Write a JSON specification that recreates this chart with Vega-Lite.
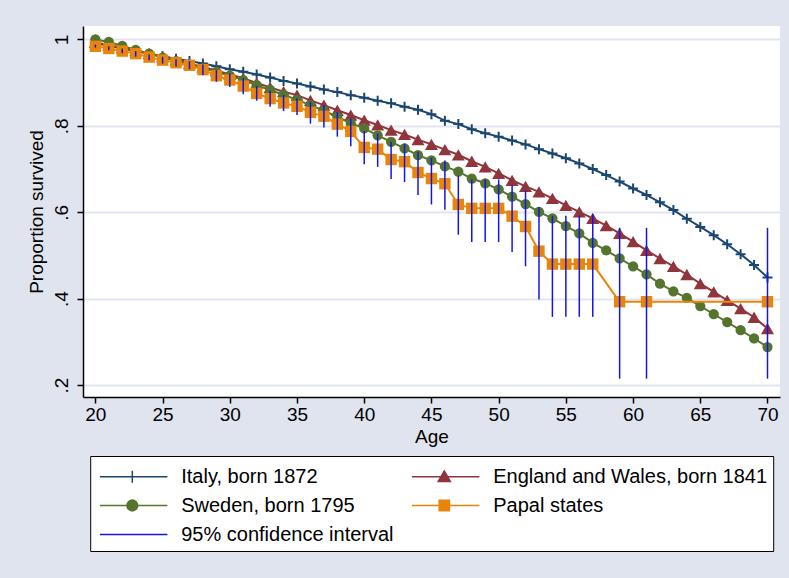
{
  "$schema": "https://vega.github.io/schema/vega-lite/v6.json",
  "width": 697,
  "height": 371,
  "autosize": {"type": "none"},
  "padding": {"left": 83, "top": 26, "right": 9, "bottom": 181},
  "background": "#E0E4EF",
  "config": {
    "font": "Liberation Sans",
    "view": {"fill": "white", "stroke": null},
    "axis": {
      "labelFont": "Liberation Sans",
      "titleFont": "Liberation Sans",
      "labelColor": "black",
      "titleColor": "black",
      "labelFontSize": 19,
      "titleFontSize": 19,
      "titleFontWeight": "normal",
      "domainColor": "black",
      "domainWidth": 1.5,
      "tickColor": "black",
      "tickWidth": 1.5,
      "tickSize": 6
    }
  },
  "data": {
    "values": [
      {"s": "Italy, born 1872", "age": 20, "p": 0.991}, {"s": "Italy, born 1872", "age": 21, "p": 0.985},
      {"s": "Italy, born 1872", "age": 22, "p": 0.979}, {"s": "Italy, born 1872", "age": 23, "p": 0.973},
      {"s": "Italy, born 1872", "age": 24, "p": 0.967}, {"s": "Italy, born 1872", "age": 25, "p": 0.961},
      {"s": "Italy, born 1872", "age": 26, "p": 0.955}, {"s": "Italy, born 1872", "age": 27, "p": 0.950},
      {"s": "Italy, born 1872", "age": 28, "p": 0.944}, {"s": "Italy, born 1872", "age": 29, "p": 0.938},
      {"s": "Italy, born 1872", "age": 30, "p": 0.931}, {"s": "Italy, born 1872", "age": 31, "p": 0.925},
      {"s": "Italy, born 1872", "age": 32, "p": 0.919}, {"s": "Italy, born 1872", "age": 33, "p": 0.912},
      {"s": "Italy, born 1872", "age": 34, "p": 0.904}, {"s": "Italy, born 1872", "age": 35, "p": 0.898},
      {"s": "Italy, born 1872", "age": 36, "p": 0.891}, {"s": "Italy, born 1872", "age": 37, "p": 0.884},
      {"s": "Italy, born 1872", "age": 38, "p": 0.878}, {"s": "Italy, born 1872", "age": 39, "p": 0.871},
      {"s": "Italy, born 1872", "age": 40, "p": 0.865}, {"s": "Italy, born 1872", "age": 41, "p": 0.858},
      {"s": "Italy, born 1872", "age": 42, "p": 0.852}, {"s": "Italy, born 1872", "age": 43, "p": 0.844},
      {"s": "Italy, born 1872", "age": 44, "p": 0.837}, {"s": "Italy, born 1872", "age": 45, "p": 0.827},
      {"s": "Italy, born 1872", "age": 46, "p": 0.812}, {"s": "Italy, born 1872", "age": 47, "p": 0.804},
      {"s": "Italy, born 1872", "age": 48, "p": 0.792}, {"s": "Italy, born 1872", "age": 49, "p": 0.783},
      {"s": "Italy, born 1872", "age": 50, "p": 0.775}, {"s": "Italy, born 1872", "age": 51, "p": 0.766},
      {"s": "Italy, born 1872", "age": 52, "p": 0.757}, {"s": "Italy, born 1872", "age": 53, "p": 0.746},
      {"s": "Italy, born 1872", "age": 54, "p": 0.736}, {"s": "Italy, born 1872", "age": 55, "p": 0.725},
      {"s": "Italy, born 1872", "age": 56, "p": 0.713}, {"s": "Italy, born 1872", "age": 57, "p": 0.700},
      {"s": "Italy, born 1872", "age": 58, "p": 0.686}, {"s": "Italy, born 1872", "age": 59, "p": 0.671},
      {"s": "Italy, born 1872", "age": 60, "p": 0.655}, {"s": "Italy, born 1872", "age": 61, "p": 0.640},
      {"s": "Italy, born 1872", "age": 62, "p": 0.623}, {"s": "Italy, born 1872", "age": 63, "p": 0.605},
      {"s": "Italy, born 1872", "age": 64, "p": 0.585}, {"s": "Italy, born 1872", "age": 65, "p": 0.566},
      {"s": "Italy, born 1872", "age": 66, "p": 0.547}, {"s": "Italy, born 1872", "age": 67, "p": 0.526},
      {"s": "Italy, born 1872", "age": 68, "p": 0.503}, {"s": "Italy, born 1872", "age": 69, "p": 0.478},
      {"s": "Italy, born 1872", "age": 70, "p": 0.449},

      {"s": "England and Wales, born 1841", "age": 20, "p": 0.993}, {"s": "England and Wales, born 1841", "age": 21, "p": 0.987},
      {"s": "England and Wales, born 1841", "age": 22, "p": 0.981}, {"s": "England and Wales, born 1841", "age": 23, "p": 0.974},
      {"s": "England and Wales, born 1841", "age": 24, "p": 0.967}, {"s": "England and Wales, born 1841", "age": 25, "p": 0.960},
      {"s": "England and Wales, born 1841", "age": 26, "p": 0.952}, {"s": "England and Wales, born 1841", "age": 27, "p": 0.944},
      {"s": "England and Wales, born 1841", "age": 28, "p": 0.936}, {"s": "England and Wales, born 1841", "age": 29, "p": 0.928},
      {"s": "England and Wales, born 1841", "age": 30, "p": 0.919}, {"s": "England and Wales, born 1841", "age": 31, "p": 0.910},
      {"s": "England and Wales, born 1841", "age": 32, "p": 0.899}, {"s": "England and Wales, born 1841", "age": 33, "p": 0.889},
      {"s": "England and Wales, born 1841", "age": 34, "p": 0.879}, {"s": "England and Wales, born 1841", "age": 35, "p": 0.871},
      {"s": "England and Wales, born 1841", "age": 36, "p": 0.859}, {"s": "England and Wales, born 1841", "age": 37, "p": 0.848},
      {"s": "England and Wales, born 1841", "age": 38, "p": 0.836}, {"s": "England and Wales, born 1841", "age": 39, "p": 0.825},
      {"s": "England and Wales, born 1841", "age": 40, "p": 0.813}, {"s": "England and Wales, born 1841", "age": 41, "p": 0.802},
      {"s": "England and Wales, born 1841", "age": 42, "p": 0.790}, {"s": "England and Wales, born 1841", "age": 43, "p": 0.780},
      {"s": "England and Wales, born 1841", "age": 44, "p": 0.768}, {"s": "England and Wales, born 1841", "age": 45, "p": 0.757},
      {"s": "England and Wales, born 1841", "age": 46, "p": 0.745}, {"s": "England and Wales, born 1841", "age": 47, "p": 0.733},
      {"s": "England and Wales, born 1841", "age": 48, "p": 0.718}, {"s": "England and Wales, born 1841", "age": 49, "p": 0.705},
      {"s": "England and Wales, born 1841", "age": 50, "p": 0.690}, {"s": "England and Wales, born 1841", "age": 51, "p": 0.674},
      {"s": "England and Wales, born 1841", "age": 52, "p": 0.660}, {"s": "England and Wales, born 1841", "age": 53, "p": 0.647},
      {"s": "England and Wales, born 1841", "age": 54, "p": 0.632}, {"s": "England and Wales, born 1841", "age": 55, "p": 0.616},
      {"s": "England and Wales, born 1841", "age": 56, "p": 0.601}, {"s": "England and Wales, born 1841", "age": 57, "p": 0.586},
      {"s": "England and Wales, born 1841", "age": 58, "p": 0.569}, {"s": "England and Wales, born 1841", "age": 59, "p": 0.551},
      {"s": "England and Wales, born 1841", "age": 60, "p": 0.532}, {"s": "England and Wales, born 1841", "age": 61, "p": 0.512},
      {"s": "England and Wales, born 1841", "age": 62, "p": 0.493}, {"s": "England and Wales, born 1841", "age": 63, "p": 0.475},
      {"s": "England and Wales, born 1841", "age": 64, "p": 0.456}, {"s": "England and Wales, born 1841", "age": 65, "p": 0.435},
      {"s": "England and Wales, born 1841", "age": 66, "p": 0.416}, {"s": "England and Wales, born 1841", "age": 67, "p": 0.396},
      {"s": "England and Wales, born 1841", "age": 68, "p": 0.377}, {"s": "England and Wales, born 1841", "age": 69, "p": 0.357},
      {"s": "England and Wales, born 1841", "age": 70, "p": 0.331},

      {"s": "Sweden, born 1795", "age": 20, "p": 1.000}, {"s": "Sweden, born 1795", "age": 21, "p": 0.994},
      {"s": "Sweden, born 1795", "age": 22, "p": 0.985}, {"s": "Sweden, born 1795", "age": 23, "p": 0.976},
      {"s": "Sweden, born 1795", "age": 24, "p": 0.967}, {"s": "Sweden, born 1795", "age": 25, "p": 0.958},
      {"s": "Sweden, born 1795", "age": 26, "p": 0.950}, {"s": "Sweden, born 1795", "age": 27, "p": 0.941},
      {"s": "Sweden, born 1795", "age": 28, "p": 0.933}, {"s": "Sweden, born 1795", "age": 29, "p": 0.925},
      {"s": "Sweden, born 1795", "age": 30, "p": 0.916}, {"s": "Sweden, born 1795", "age": 31, "p": 0.906},
      {"s": "Sweden, born 1795", "age": 32, "p": 0.894}, {"s": "Sweden, born 1795", "age": 33, "p": 0.883},
      {"s": "Sweden, born 1795", "age": 34, "p": 0.872}, {"s": "Sweden, born 1795", "age": 35, "p": 0.860},
      {"s": "Sweden, born 1795", "age": 36, "p": 0.848}, {"s": "Sweden, born 1795", "age": 37, "p": 0.835},
      {"s": "Sweden, born 1795", "age": 38, "p": 0.821}, {"s": "Sweden, born 1795", "age": 39, "p": 0.806},
      {"s": "Sweden, born 1795", "age": 40, "p": 0.794}, {"s": "Sweden, born 1795", "age": 41, "p": 0.778},
      {"s": "Sweden, born 1795", "age": 42, "p": 0.763}, {"s": "Sweden, born 1795", "age": 43, "p": 0.748},
      {"s": "Sweden, born 1795", "age": 44, "p": 0.732}, {"s": "Sweden, born 1795", "age": 45, "p": 0.720},
      {"s": "Sweden, born 1795", "age": 46, "p": 0.706}, {"s": "Sweden, born 1795", "age": 47, "p": 0.694},
      {"s": "Sweden, born 1795", "age": 48, "p": 0.678}, {"s": "Sweden, born 1795", "age": 49, "p": 0.667},
      {"s": "Sweden, born 1795", "age": 50, "p": 0.653}, {"s": "Sweden, born 1795", "age": 51, "p": 0.636},
      {"s": "Sweden, born 1795", "age": 52, "p": 0.619}, {"s": "Sweden, born 1795", "age": 53, "p": 0.601},
      {"s": "Sweden, born 1795", "age": 54, "p": 0.586}, {"s": "Sweden, born 1795", "age": 55, "p": 0.568},
      {"s": "Sweden, born 1795", "age": 56, "p": 0.551}, {"s": "Sweden, born 1795", "age": 57, "p": 0.529},
      {"s": "Sweden, born 1795", "age": 58, "p": 0.512}, {"s": "Sweden, born 1795", "age": 59, "p": 0.493},
      {"s": "Sweden, born 1795", "age": 60, "p": 0.475}, {"s": "Sweden, born 1795", "age": 61, "p": 0.456},
      {"s": "Sweden, born 1795", "age": 62, "p": 0.435}, {"s": "Sweden, born 1795", "age": 63, "p": 0.417},
      {"s": "Sweden, born 1795", "age": 64, "p": 0.402}, {"s": "Sweden, born 1795", "age": 65, "p": 0.383},
      {"s": "Sweden, born 1795", "age": 66, "p": 0.364}, {"s": "Sweden, born 1795", "age": 67, "p": 0.346},
      {"s": "Sweden, born 1795", "age": 68, "p": 0.327}, {"s": "Sweden, born 1795", "age": 69, "p": 0.308},
      {"s": "Sweden, born 1795", "age": 70, "p": 0.288},

      {"s": "Papal states", "age": 20, "p": 0.984, "lo": 0.981, "hi": 0.988},
      {"s": "Papal states", "age": 21, "p": 0.979, "lo": 0.975, "hi": 0.984},
      {"s": "Papal states", "age": 22, "p": 0.973, "lo": 0.968, "hi": 0.979},
      {"s": "Papal states", "age": 23, "p": 0.967, "lo": 0.960, "hi": 0.973},
      {"s": "Papal states", "age": 24, "p": 0.959, "lo": 0.952, "hi": 0.965},
      {"s": "Papal states", "age": 25, "p": 0.952, "lo": 0.944, "hi": 0.960},
      {"s": "Papal states", "age": 26, "p": 0.946, "lo": 0.937, "hi": 0.954},
      {"s": "Papal states", "age": 27, "p": 0.940, "lo": 0.931, "hi": 0.950},
      {"s": "Papal states", "age": 28, "p": 0.930, "lo": 0.917, "hi": 0.942},
      {"s": "Papal states", "age": 29, "p": 0.916, "lo": 0.902, "hi": 0.929},
      {"s": "Papal states", "age": 30, "p": 0.906, "lo": 0.890, "hi": 0.921},
      {"s": "Papal states", "age": 31, "p": 0.892, "lo": 0.873, "hi": 0.910},
      {"s": "Papal states", "age": 32, "p": 0.875, "lo": 0.858, "hi": 0.892},
      {"s": "Papal states", "age": 33, "p": 0.863, "lo": 0.844, "hi": 0.881},
      {"s": "Papal states", "age": 34, "p": 0.853, "lo": 0.834, "hi": 0.871},
      {"s": "Papal states", "age": 35, "p": 0.845, "lo": 0.825, "hi": 0.864},
      {"s": "Papal states", "age": 36, "p": 0.831, "lo": 0.805, "hi": 0.856},
      {"s": "Papal states", "age": 37, "p": 0.822, "lo": 0.796, "hi": 0.848},
      {"s": "Papal states", "age": 38, "p": 0.804, "lo": 0.775, "hi": 0.832},
      {"s": "Papal states", "age": 39, "p": 0.787, "lo": 0.753, "hi": 0.817},
      {"s": "Papal states", "age": 40, "p": 0.750, "lo": 0.711, "hi": 0.788},
      {"s": "Papal states", "age": 41, "p": 0.746, "lo": 0.705, "hi": 0.782},
      {"s": "Papal states", "age": 42, "p": 0.722, "lo": 0.677, "hi": 0.763},
      {"s": "Papal states", "age": 43, "p": 0.717, "lo": 0.670, "hi": 0.759},
      {"s": "Papal states", "age": 44, "p": 0.692, "lo": 0.640, "hi": 0.740},
      {"s": "Papal states", "age": 45, "p": 0.678, "lo": 0.618, "hi": 0.726},
      {"s": "Papal states", "age": 46, "p": 0.666, "lo": 0.606, "hi": 0.720},
      {"s": "Papal states", "age": 47, "p": 0.618, "lo": 0.548, "hi": 0.685},
      {"s": "Papal states", "age": 48, "p": 0.609, "lo": 0.531, "hi": 0.676},
      {"s": "Papal states", "age": 49, "p": 0.609, "lo": 0.531, "hi": 0.676},
      {"s": "Papal states", "age": 50, "p": 0.609, "lo": 0.531, "hi": 0.676},
      {"s": "Papal states", "age": 51, "p": 0.591, "lo": 0.508, "hi": 0.663},
      {"s": "Papal states", "age": 52, "p": 0.567, "lo": 0.475, "hi": 0.650},
      {"s": "Papal states", "age": 53, "p": 0.510, "lo": 0.398, "hi": 0.612},
      {"s": "Papal states", "age": 54, "p": 0.480, "lo": 0.358, "hi": 0.592},
      {"s": "Papal states", "age": 55, "p": 0.480, "lo": 0.358, "hi": 0.592},
      {"s": "Papal states", "age": 56, "p": 0.480, "lo": 0.358, "hi": 0.592},
      {"s": "Papal states", "age": 57, "p": 0.480, "lo": 0.358, "hi": 0.596},
      {"s": "Papal states", "age": 59, "p": 0.393, "lo": 0.215, "hi": 0.564},
      {"s": "Papal states", "age": 61, "p": 0.393, "lo": 0.215, "hi": 0.564},
      {"s": "Papal states", "age": 70, "p": 0.393, "lo": 0.215, "hi": 0.564}
    ]
  },
  "encoding": {
    "x": {
      "field": "age",
      "type": "quantitative",
      "scale": {"domain": [19.08, 70.93], "nice": false, "zero": false},
      "axis": {
        "title": "Age",
        "values": [20, 25, 30, 35, 40, 45, 50, 55, 60, 65, 70],
        "grid": false,
        "labelPadding": 2,
        "titlePadding": 3
      }
    },
    "y": {
      "field": "p",
      "type": "quantitative",
      "scale": {"domain": [0.1725, 1.031], "nice": false, "zero": false},
      "axis": {
        "title": "Proportion survived",
        "values": [0.2, 0.4, 0.6, 0.8, 1],
        "labelExpr": "datum.value >= 1 ? '1' : substring(format(datum.value, '.1f'), 1)",
        "labelAngle": -90,
        "labelAlign": "center",
        "labelBaseline": "bottom",
        "labelPadding": 6,
        "titlePadding": 6,
        "grid": true,
        "gridColor": "#E1E5F0",
        "gridWidth": 2
      }
    }
  },
  "layer": [
    {
      "transform": [{"filter": "datum.s == 'Italy, born 1872'"}],
      "mark": {"type": "line", "color": "#1A476F", "strokeWidth": 2}
    },
    {
      "transform": [{"filter": "datum.s == 'Italy, born 1872'"}],
      "mark": {"type": "point", "shape": "M-1,0H1M0,-1V1", "filled": false, "color": "#1A476F", "strokeWidth": 2, "size": 100, "opacity": 1}
    },
    {
      "transform": [{"filter": "datum.s == 'England and Wales, born 1841'"}],
      "mark": {"type": "line", "color": "#90353B", "strokeWidth": 2}
    },
    {
      "transform": [{"filter": "datum.s == 'England and Wales, born 1841'"}],
      "mark": {"type": "point", "shape": "triangle-up", "filled": true, "color": "#90353B", "size": 170, "opacity": 1}
    },
    {
      "transform": [{"filter": "datum.s == 'Sweden, born 1795'"}],
      "mark": {"type": "line", "color": "#55752F", "strokeWidth": 2}
    },
    {
      "transform": [{"filter": "datum.s == 'Sweden, born 1795'"}],
      "mark": {"type": "point", "shape": "circle", "filled": true, "color": "#55752F", "size": 105, "opacity": 1}
    },
    {
      "transform": [{"filter": "datum.s == 'Papal states'"}],
      "mark": {"type": "line", "color": "#E8850A", "strokeWidth": 2}
    },
    {
      "transform": [{"filter": "datum.s == 'Papal states'"}],
      "mark": {"type": "point", "shape": "square", "filled": true, "color": "#E8850A", "size": 130, "opacity": 1}
    },
    {
      "transform": [{"filter": "datum.s == 'Papal states'"}],
      "mark": {"type": "rule", "color": "#1414F0", "strokeWidth": 1.5},
      "encoding": {
        "y": {"field": "lo", "type": "quantitative"},
        "y2": {"field": "hi"}
      }
    },
    {
      "transform": [{"filter": "false"}],
      "mark": {"type": "point", "filled": true, "size": 729, "strokeWidth": 1.5, "opacity": 1},
      "encoding": {
        "shape": {
          "field": "s",
          "type": "nominal",
          "scale": {
            "domain": ["Italy, born 1872", "Sweden, born 1795", "95% confidence interval", "England and Wales, born 1841", "Papal states"],
            "range": [
              "M-0.8,0H4.2M1.6,-0.45V0.45",
              "M-0.8,0H4.2M1.2,0A0.4,0.4 0 1,0 2,0A0.4,0.4 0 1,0 1.2,0Z",
              "M-0.8,0H4.2",
              "M-0.8,0H4.2M1.15,0.35L1.6,-0.42L2.05,0.35Z",
              "M-0.8,0H4.2M1.22,-0.38H1.98V0.38H1.22Z"
            ]
          },
          "legend": {
            "title": null,
            "orient": "none",
            "legendX": 7.2,
            "legendY": 430,
            "columns": 2,
            "columnPadding": 14,
            "rowPadding": 4,
            "padding": 6,
            "fillColor": "white",
            "strokeColor": "black",
            "labelFont": "Liberation Sans",
            "labelFontSize": 20,
            "labelColor": "black",
            "labelOffset": 56,
            "symbolSize": 729,
            "symbolStrokeWidth": 1.5,
            "symbolOpacity": 1,
            "labelLimit": 400
          }
        },
        "fill": {
          "field": "s",
          "type": "nominal",
          "scale": {
            "domain": ["Italy, born 1872", "Sweden, born 1795", "95% confidence interval", "England and Wales, born 1841", "Papal states"],
            "range": ["#1A476F", "#55752F", "#1414F0", "#90353B", "#E8850A"]
          }
        },
        "stroke": {
          "field": "s",
          "type": "nominal",
          "scale": {
            "domain": ["Italy, born 1872", "Sweden, born 1795", "95% confidence interval", "England and Wales, born 1841", "Papal states"],
            "range": ["#1A476F", "#55752F", "#1414F0", "#90353B", "#E8850A"]
          }
        }
      }
    }
  ]
}
